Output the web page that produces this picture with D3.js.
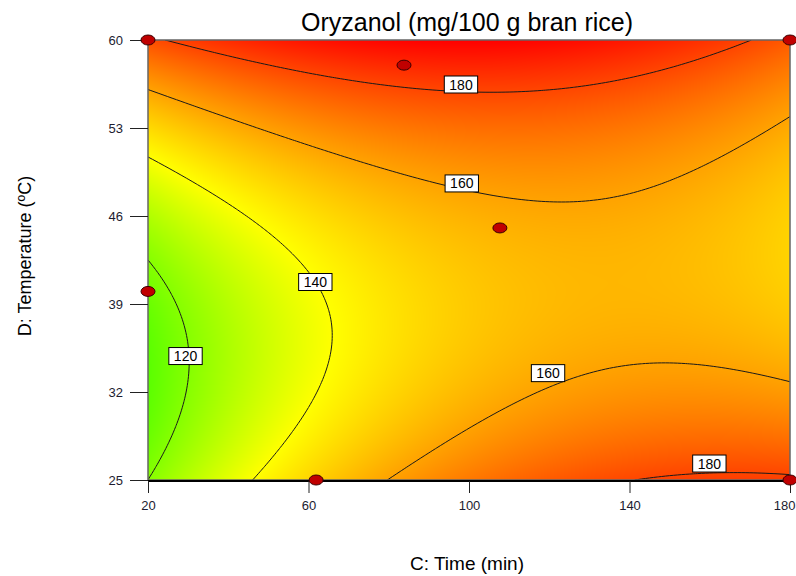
<!DOCTYPE html>
<html>
<head>
<meta charset="utf-8">
<script src="https://cdn.jsdelivr.net/npm/d3@7"></script>
<style>
  html, body { margin: 0; padding: 0; background: #fff; }
  svg { display: block; font-family: "Liberation Sans", Arial, sans-serif; }
</style>
</head>
<body>
<svg id="chart" width="796" height="576"></svg>
<script>
// Axis ranges and ticks
const timeDomain = [20, 180];
const tempDomain = [25, 60];
const timeTicks = [20, 60, 100, 140, 180];
const tempTicks = [25, 32, 39, 46, 53, 60];

// Fitted quadratic response surface in coded units
// terms: [intercept, C, D, C*D, C^2, D^2]
const modelCoef = [153, 14.75, 13.1, -15.97, -18.25, 29.1];

// Contour levels
const contourLevels = [120, 140, 160, 180];

// Contour label anchors (level, time, temperature)
const labelLevels = [180, 160, 140, 120, 160, 180];
const labelTime = [98.0, 98.2, 61.7, 29.35, 119.7, 159.9];
const labelTemp = [56.46, 48.59, 40.75, 34.86, 33.5, 26.31];

// Design points
const pointTime = [20, 83.8, 180, 107.7, 20, 61.9, 180];
const pointTemp = [60, 58.0, 60, 45.05, 40, 25, 25];

// Colour stops for the response
const colorValues = [112, 140, 195];
const colorStops = ["#55ff00", "#ffff00", "#ff0000"];

const svg = d3.select("#chart");
const plotL = 148, plotR = 790, plotT = 40, plotB = 480;
const pw = plotR - plotL, ph = plotB - plotT;

const x = d3.scaleLinear().domain(timeDomain).range([plotL, plotR]);
const y = d3.scaleLinear().domain(tempDomain).range([plotB, plotT]);
const color = d3.scaleLinear().domain(colorValues).range(colorStops).clamp(true);

function surface(C, D) {
  const a = (C - 100) / 80, b = (D - 42.5) / 17.5;
  const k = modelCoef;
  return k[0] + k[1] * a + k[2] * b + k[3] * a * b + k[4] * a * a + k[5] * b * b;
}

// Filled surface as a raster image
const canvas = document.createElement("canvas");
canvas.width = pw; canvas.height = ph;
const ctx = canvas.getContext("2d");
const img = ctx.createImageData(pw, ph);
for (let j = 0; j < ph; j++) {
  const D = y.invert(plotT + j + 0.5);
  for (let i = 0; i < pw; i++) {
    const C = x.invert(plotL + i + 0.5);
    const c = d3.rgb(color(surface(C, D)));
    const o = (j * pw + i) * 4;
    img.data[o] = c.r; img.data[o + 1] = c.g; img.data[o + 2] = c.b; img.data[o + 3] = 255;
  }
}
ctx.putImageData(img, 0, 0);

svg.append("defs").append("clipPath").attr("id", "plotClip")
  .append("rect").attr("x", plotL).attr("y", plotT).attr("width", pw).attr("height", ph);

svg.append("image")
  .attr("x", plotL).attr("y", plotT).attr("width", pw).attr("height", ph)
  .attr("preserveAspectRatio", "none")
  .attr("href", canvas.toDataURL());

// Contour lines
const n = 161, m = 141;
const grid = new Array(n * m);
for (let j = 0; j < m; j++) {
  const D = tempDomain[1] - j * (tempDomain[1] - tempDomain[0]) / (m - 1);
  for (let i = 0; i < n; i++) {
    const C = timeDomain[0] + i * (timeDomain[1] - timeDomain[0]) / (n - 1);
    grid[j * n + i] = surface(C, D);
  }
}
const contours = d3.contours().size([n, m]).thresholds(contourLevels)(grid);
const proj = d3.geoTransform({
  point(gx, gy) {
    this.stream.point(plotL + (gx - 0.5) * pw / (n - 1), plotT + (gy - 0.5) * ph / (m - 1));
  }
});
svg.append("g").attr("clip-path", "url(#plotClip)")
  .selectAll("path").data(contours).join("path")
  .attr("d", d3.geoPath(proj))
  .attr("fill", "none")
  .attr("stroke", "#1a1a1a")
  .attr("stroke-width", 1);

// Frame
svg.append("rect").attr("x", plotL).attr("y", plotT).attr("width", pw).attr("height", ph)
  .attr("fill", "none").attr("stroke", "#666").attr("stroke-width", 1.5);
svg.append("line").attr("x1", plotL).attr("x2", plotR).attr("y1", plotB + 1).attr("y2", plotB + 1)
  .attr("stroke", "#000").attr("stroke-width", 2);

// Axes
const xAxis = d3.axisBottom(x).tickValues(timeTicks).tickSize(12).tickPadding(8).tickFormat(d3.format("d"));
const gx = svg.append("g").attr("transform", `translate(0,${plotB + 1})`).call(xAxis);
gx.select(".domain").remove();
gx.selectAll(".tick line").attr("stroke", "#222");
gx.selectAll(".tick text").attr("font-size", 13).attr("fill", "#1c1c30")
  .attr("font-family", "Liberation Sans, Arial, sans-serif");
// keep the last tick label inside the page
gx.selectAll(".tick text").filter(d => d === timeTicks[timeTicks.length - 1])
  .attr("text-anchor", "end").attr("x", 796 - plotR - 1);

const yAxis = d3.axisLeft(y).tickValues(tempTicks).tickSize(18).tickPadding(7).tickFormat(d3.format("d"));
const gy = svg.append("g").attr("transform", `translate(${plotL},0)`).call(yAxis);
gy.select(".domain").remove();
gy.selectAll(".tick line").attr("stroke", "#222");
gy.selectAll(".tick text").attr("font-size", 13).attr("fill", "#1c1c30")
  .attr("font-family", "Liberation Sans, Arial, sans-serif");

// Contour labels
const labels = svg.append("g");
labelLevels.forEach((lv, i) => {
  const g = labels.append("g").attr("transform", `translate(${x(labelTime[i])},${y(labelTemp[i])})`);
  const r = g.append("rect");
  const t = g.append("text").text(lv)
    .attr("text-anchor", "middle").attr("dy", "0.36em")
    .attr("font-size", 14).attr("fill", "#000");
  const w = t.node().getComputedTextLength() + 10;
  r.attr("x", -w / 2).attr("y", -8.5).attr("width", w).attr("height", 17)
    .attr("fill", "#fff").attr("stroke", "#000").attr("stroke-width", 1);
});

// Design points
svg.append("g").selectAll("ellipse").data(pointTime.map((t, i) => [t, pointTemp[i]]))
  .join("ellipse")
  .attr("cx", d => x(d[0])).attr("cy", d => y(d[1]))
  .attr("rx", 7).attr("ry", 5)
  .attr("fill", "#c00000").attr("stroke", "#3a0000").attr("stroke-width", 1);

// Titles
svg.append("text").attr("x", 467).attr("y", 31).attr("text-anchor", "middle")
  .attr("font-size", 25).attr("fill", "#000").text("Oryzanol (mg/100 g bran rice)");
svg.append("text").attr("x", 467).attr("y", 570).attr("text-anchor", "middle")
  .attr("font-size", 19).attr("fill", "#000").text("C: Time (min)");
svg.append("text").attr("transform", "translate(31,256) rotate(-90)").attr("text-anchor", "middle")
  .attr("font-size", 18).attr("fill", "#000").text("D: Temperature (ºC)");
</script>
</body>
</html>
